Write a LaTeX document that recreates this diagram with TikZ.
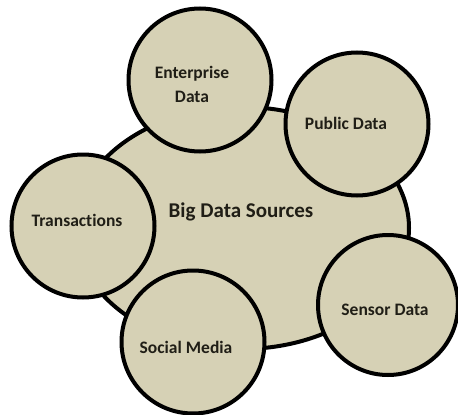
\documentclass[tikz,border=0pt]{standalone}
\usepackage{fontspec}
\setmainfont{Carlito}[Ligatures={NoCommon}]
\usetikzlibrary{shapes.geometric}
\definecolor{tanfill}{RGB}{214,209,181}
\definecolor{txt}{RGB}{32,30,22}
\begin{document}
\begin{tikzpicture}[x=1pt,y=-1pt,
  blob/.style={draw=black, line width=4pt, fill=tanfill, ellipse, inner sep=0pt},
  src/.style={draw=black, line width=4pt, fill=tanfill, circle, inner sep=0pt, minimum size=143pt},
  lbl/.style={text=txt, font=\fontsize{17.5}{24}\selectfont\bfseries, align=center, inner sep=0pt},
  biglbl/.style={text=txt, font=\fontsize{21}{24}\selectfont\bfseries, inner sep=0pt}]
\useasboundingbox (0,0) rectangle (458,415);
\node[blob, minimum width=334pt, minimum height=242pt] (big) at (242,228) {};
\node[src] (ent) at (200,80) {};
\node[src] (pub) at (357,124) {};
\node[src] (tra) at (83,226) {};
\node[src] (soc) at (193,342) {};
\node[src, minimum size=140pt] (sen) at (388,305) {};
\node[biglbl] (tbig) at (241,212) {Big Data Sources};
\node[lbl] (tent) at (192,84.5) {Enterprise\\Data};
\node[lbl] (tpub) at (346,123) {Public Data};
\node[lbl] (ttra) at (77,220) {Transactions};
\node[lbl] (tsoc) at (186,347) {Social Media};
\node[lbl] (tsen) at (385,310) {Sensor Data};
\end{tikzpicture}
\end{document}
